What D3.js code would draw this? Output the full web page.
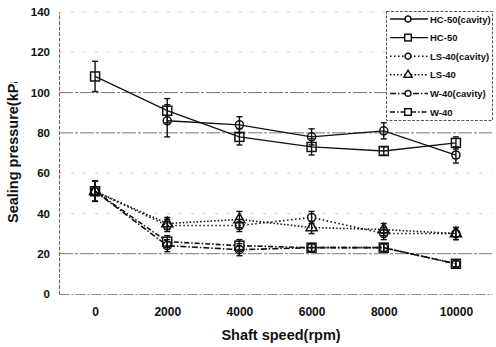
<!DOCTYPE html>
<html>
<head>
<meta charset="utf-8">
<script src="https://d3js.org/d3.v7.min.js"></script>
<style>
  body { margin: 0; background: #fff; }
  svg { display: block; font-family: "Liberation Sans", Arial, sans-serif; }
</style>
</head>
<body>
<div id="chart"></div>
<script>
// shaft speed categories (rpm)
const speeds = ['0', '2000', '4000', '6000', '8000', '10000'];
const yTicks = [0, 20, 40, 60, 80, 100, 120, 140];
const strongGrid = [20, 80, 100];

const seriesNames = ['HC-50(cavity)', 'HC-50', 'LS-40(cavity)', 'LS-40', 'W-40(cavity)', 'W-40'];
const hc50Cavity = [null, 86, 84, 78, 81, 69];
const hc50 = [108, 91, 78, 73, 71, 75];
const ls40Cavity = [51, 34, 34, 38, 30, 30];
const ls40 = [51, 35, 37, 33, 32, 30];
const w40Cavity = [51, 24, 22, 23, 23, 15];
const w40 = [51, 26, 24, 23, 23, 15];

const hc50CavityErr = [null, 8, 4, 4, 4, 4];
const hc50Err = [7.5, 6, 4, 4, 2, 3];
const ls40CavityErr = [5, 3, 3, 3, 3, 3];
const ls40Err = [5, 3, 4, 3, 3, 3];
const w40CavityErr = [5, 3, 3, 2, 2, 1.5];
const w40Err = [5, 3, 3, 2, 2, 1.5];

const series = [
  { name: seriesNames[0], values: hc50Cavity, err: hc50CavityErr, marker: 'circle', dash: null },
  { name: seriesNames[1], values: hc50, err: hc50Err, marker: 'square', dash: null },
  { name: seriesNames[2], values: ls40Cavity, err: ls40CavityErr, marker: 'circle', dash: '1.5,2.5' },
  { name: seriesNames[3], values: ls40, err: ls40Err, marker: 'triangle', dash: '1.5,2' },
  { name: seriesNames[4], values: w40Cavity, err: w40CavityErr, marker: 'circle', dash: '6,2,1.5,2' },
  { name: seriesNames[5], values: w40, err: w40Err, marker: 'square', dash: '5,2,1.5,2' }
];

const width = 496, height = 347;
const plot = { left: 59, right: 492, top: 12, bottom: 294 };

const svg = d3.select('#chart').append('svg')
  .attr('width', width)
  .attr('height', height);

const x = d3.scalePoint()
  .domain(speeds)
  .range([plot.left, plot.right])
  .padding(0.5);

const y = d3.scaleLinear()
  .domain([0, 140])
  .range([plot.bottom, plot.top]);

// grid lines
svg.append('g')
  .selectAll('line')
  .data(yTicks.filter(d => d > 0))
  .join('line')
  .attr('x1', plot.left)
  .attr('x2', plot.right)
  .attr('y1', d => y(d))
  .attr('y2', d => y(d))
  .attr('stroke', d => strongGrid.includes(d) ? '#777' : '#d0d0d0')
  .attr('stroke-width', 1)
  .attr('stroke-dasharray', d => strongGrid.includes(d) ? '14,2,3,2' : '3,9');

// axes: just the lines, labels drawn by d3.axis without ticks
const yAxis = svg.append('g')
  .attr('transform', `translate(${plot.left},0)`)
  .call(d3.axisLeft(y).tickValues(yTicks).tickSize(0).tickPadding(9));
yAxis.select('.domain').attr('stroke', '#666').attr('stroke-dasharray', '4,1.5');
yAxis.selectAll('text')
  .attr('font-size', 11.5)
  .attr('font-weight', 'bold')
  .attr('fill', '#111')
  .attr('font-family', '"Liberation Sans", Arial, sans-serif');

const xAxis = svg.append('g')
  .attr('transform', `translate(0,${plot.bottom})`)
  .call(d3.axisBottom(x).tickSize(0).tickPadding(13));
xAxis.select('.domain').attr('stroke', '#888').attr('stroke-dasharray', '10,2,2,2');
xAxis.selectAll('text')
  .attr('font-size', 12)
  .attr('font-weight', 'bold')
  .attr('fill', '#111')
  .attr('font-family', '"Liberation Sans", Arial, sans-serif');

// axis titles
svg.append('text')
  .attr('x', 281)
  .attr('y', 340)
  .attr('text-anchor', 'middle')
  .attr('font-size', 14.5)
  .attr('font-weight', 'bold')
  .attr('fill', '#111')
  .text('Shaft speed(rpm)');

// the original title is cut off after "(kP"
svg.append('clipPath').attr('id', 'ytitle-clip')
  .append('rect').attr('x', 0).attr('y', 82).attr('width', 40).attr('height', 200);

svg.append('g')
  .attr('clip-path', 'url(#ytitle-clip)')
  .append('text')
  .attr('transform', 'translate(18,223) rotate(-90)')
  .attr('text-anchor', 'start')
  .attr('font-size', 14.5)
  .attr('font-weight', 'bold')
  .attr('fill', '#111')
  .text('Sealing pressure(kPa)');

// marker drawing
function drawMarker(sel, type, size) {
  if (type === 'circle') {
    sel.append('circle').attr('r', size * 0.9);
  } else if (type === 'square') {
    sel.append('rect')
      .attr('x', -size).attr('y', -size)
      .attr('width', size * 2).attr('height', size * 2);
  } else {
    sel.append('path').attr('d', d3.symbol(d3.symbolTriangle, size * size * 2.6)());
  }
  sel.selectAll('*')
    .attr('fill', 'none')
    .attr('stroke', '#111')
    .attr('stroke-width', 1.5);
}

const line = d3.line()
  .defined(d => d.v != null)
  .x(d => x(d.s))
  .y(d => y(d.v));

series.forEach(s => {
  const pts = speeds.map((sp, i) => ({ s: sp, v: s.values[i], e: s.err[i] }));
  const g = svg.append('g');

  g.append('path')
    .datum(pts)
    .attr('fill', 'none')
    .attr('stroke', '#111')
    .attr('stroke-width', s.dash ? 1.6 : 1.3)
    .attr('stroke-dasharray', s.dash)
    .attr('d', line);

  const valid = pts.filter(d => d.v != null);

  // error bars
  const eb = g.selectAll('g.err')
    .data(valid)
    .join('g')
    .attr('stroke', '#111')
    .attr('stroke-width', 1.4);
  eb.append('line')
    .attr('x1', d => x(d.s)).attr('x2', d => x(d.s))
    .attr('y1', d => y(d.v - d.e)).attr('y2', d => y(d.v + d.e));
  eb.append('line')
    .attr('x1', d => x(d.s) - 3).attr('x2', d => x(d.s) + 3)
    .attr('y1', d => y(d.v + d.e)).attr('y2', d => y(d.v + d.e));
  eb.append('line')
    .attr('x1', d => x(d.s) - 3).attr('x2', d => x(d.s) + 3)
    .attr('y1', d => y(d.v - d.e)).attr('y2', d => y(d.v - d.e));

  g.selectAll('g.mk')
    .data(valid)
    .join('g')
    .attr('transform', d => `translate(${x(d.s)},${y(d.v)})`)
    .each(function () { drawMarker(d3.select(this), s.marker, 4.5); });
});

// legend
const legend = svg.append('g');
legend.append('rect')
  .attr('x', 386.5).attr('y', 11.5)
  .attr('width', 106).attr('height', 109)
  .attr('fill', '#fff')
  .attr('stroke', '#555')
  .attr('stroke-dasharray', '3,1.5');

const rows = legend.selectAll('g.row')
  .data(series)
  .join('g')
  .attr('transform', (d, i) => `translate(0,${19 + i * 18.6})`);

rows.append('line')
  .attr('x1', 390).attr('x2', 428)
  .attr('y1', 0).attr('y2', 0)
  .attr('stroke', '#111')
  .attr('stroke-width', d => d.dash ? 1.5 : 1.3)
  .attr('stroke-dasharray', d => d.dash);

rows.append('g')
  .attr('transform', 'translate(408,0)')
  .each(function (d) {
    const m = d3.select(this);
    drawMarker(m, d.marker, 3.3);
    m.selectAll('*').attr('fill', '#fff');
  });

rows.append('text')
  .attr('x', 430)
  .attr('y', 3.5)
  .attr('font-size', 9.5)
  .attr('font-weight', 'bold')
  .attr('fill', '#111')
  .text(d => d.name);
</script>
</body>
</html>
